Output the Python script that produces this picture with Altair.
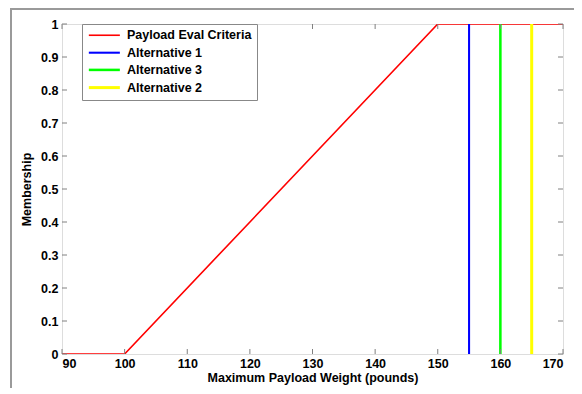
import altair as alt
import pandas as pd

# ---- data ----
series_names = ["Payload Eval Criteria", "Alternative 1", "Alternative 3", "Alternative 2"]
series_colors = ["#ff0000", "#0000ff", "#00ff00", "#ffff00"]
series_widths = [1.6, 3, 3, 3]
criteria_x = [90, 100, 150, 170]
criteria_y = [0, 0, 1, 1]
alt1_x = [155, 155]
alt3_x = [160, 160]
alt2_x = [165, 165]
alt_y = [0, 1]
x_ticks = [90, 100, 110, 120, 130, 140, 150, 160, 170]
y_ticks = [0, 0.1, 0.2, 0.3, 0.4, 0.5, 0.6, 0.7, 0.8, 0.9, 1]

W, H = 501, 330
FONT = "Liberation Sans"
FS = 12.5

rows = []
for i, (x, y) in enumerate(zip(criteria_x, criteria_y)):
    rows.append({"series": series_names[0], "x": x, "y": y, "o": i})
for name, xs in [(series_names[1], alt1_x), (series_names[2], alt3_x), (series_names[3], alt2_x)]:
    for i, (x, y) in enumerate(zip(xs, alt_y)):
        rows.append({"series": name, "x": x, "y": y, "o": i})
df = pd.DataFrame(rows)

xscale = alt.Scale(domain=[90, 170], nice=False, zero=False)
yscale = alt.Scale(domain=[0, 1], nice=False)

axis_style = dict(
    grid=False, tickSize=0, domain=False, labelOverlap=False,
    labelFont=FONT, labelFontWeight="bold", labelFontSize=FS, labelColor="#000000",
    titleFont=FONT, titleFontWeight="bold", titleFontSize=FS, titleColor="#000000",
)
x_axis = alt.Axis(values=x_ticks, title="Maximum Payload Weight (pounds)",
                  labelPadding=3, titlePadding=2, **axis_style)
y_axis = alt.Axis(values=y_ticks, format="~g", title="Membership",
                  labelPadding=4, titlePadding=7, **axis_style)

legend_props = dict(title=None, orient="none", legendX=20, legendY=0,
                    symbolType="M-1,0H5", symbolSize=107, labelOffset=26,
                    rowPadding=4.2, padding=5,
                    strokeColor="#888888", fillColor="#ffffff",
                    labelFont=FONT, labelFontWeight="bold",
                    labelFontSize=FS, labelColor="#000000", cornerRadius=0)

lines = alt.Chart(df).mark_line(clip=True).encode(
    x=alt.X("x:Q", scale=xscale, axis=x_axis),
    y=alt.Y("y:Q", scale=yscale, axis=y_axis),
    color=alt.Color("series:N",
                    scale=alt.Scale(domain=series_names, range=series_colors),
                    legend=alt.Legend(**legend_props)),
    strokeWidth=alt.StrokeWidth("series:N",
                                scale=alt.Scale(domain=series_names, range=series_widths),
                                legend=alt.Legend(**legend_props)),
    detail="series:N",
    order="o:Q",
)

xt = pd.DataFrame({"x": x_ticks})
yt = pd.DataFrame({"y": y_ticks})
tick_color = "#808080"
bottom_ticks = alt.Chart(xt).mark_rule(color=tick_color).encode(
    x=alt.X("x:Q", scale=xscale, axis=x_axis), y=alt.value(H), y2=alt.value(H - 5))
top_ticks = alt.Chart(xt).mark_rule(color=tick_color).encode(
    x=alt.X("x:Q", scale=xscale, axis=x_axis), y=alt.value(0), y2=alt.value(5))
left_ticks = alt.Chart(yt).mark_rule(color=tick_color).encode(
    y=alt.Y("y:Q", scale=yscale, axis=y_axis), x=alt.value(0), x2=alt.value(5))
right_ticks = alt.Chart(yt).mark_rule(color=tick_color).encode(
    y=alt.Y("y:Q", scale=yscale, axis=y_axis), x=alt.value(W), x2=alt.value(W - 5))

frame_color = "#9a9a9a"
frame_top = alt.Chart(pd.DataFrame({"k": [0]})).mark_rect(color=frame_color, clip=False).encode(
    x=alt.value(-52), x2=alt.value(W + 12), y=alt.value(-16), y2=alt.value(-14))
frame_left = alt.Chart(pd.DataFrame({"k": [0]})).mark_rect(color=frame_color, clip=False).encode(
    x=alt.value(-52), x2=alt.value(-50), y=alt.value(-16), y2=alt.value(H + 40))

chart = alt.layer(
    lines, bottom_ticks, top_ticks, left_ticks, right_ticks, frame_top, frame_left
).properties(
    width=W, height=H,
    autosize=alt.AutoSizeParams(type="none"),
    padding={"left": 54, "top": 16, "right": 11, "bottom": 34},
).configure_view(
    stroke="#808080", strokeWidth=1.2
).configure(background="#ffffff")

chart.save("out.html", embed_options={"renderer": "svg", "actions": False})
